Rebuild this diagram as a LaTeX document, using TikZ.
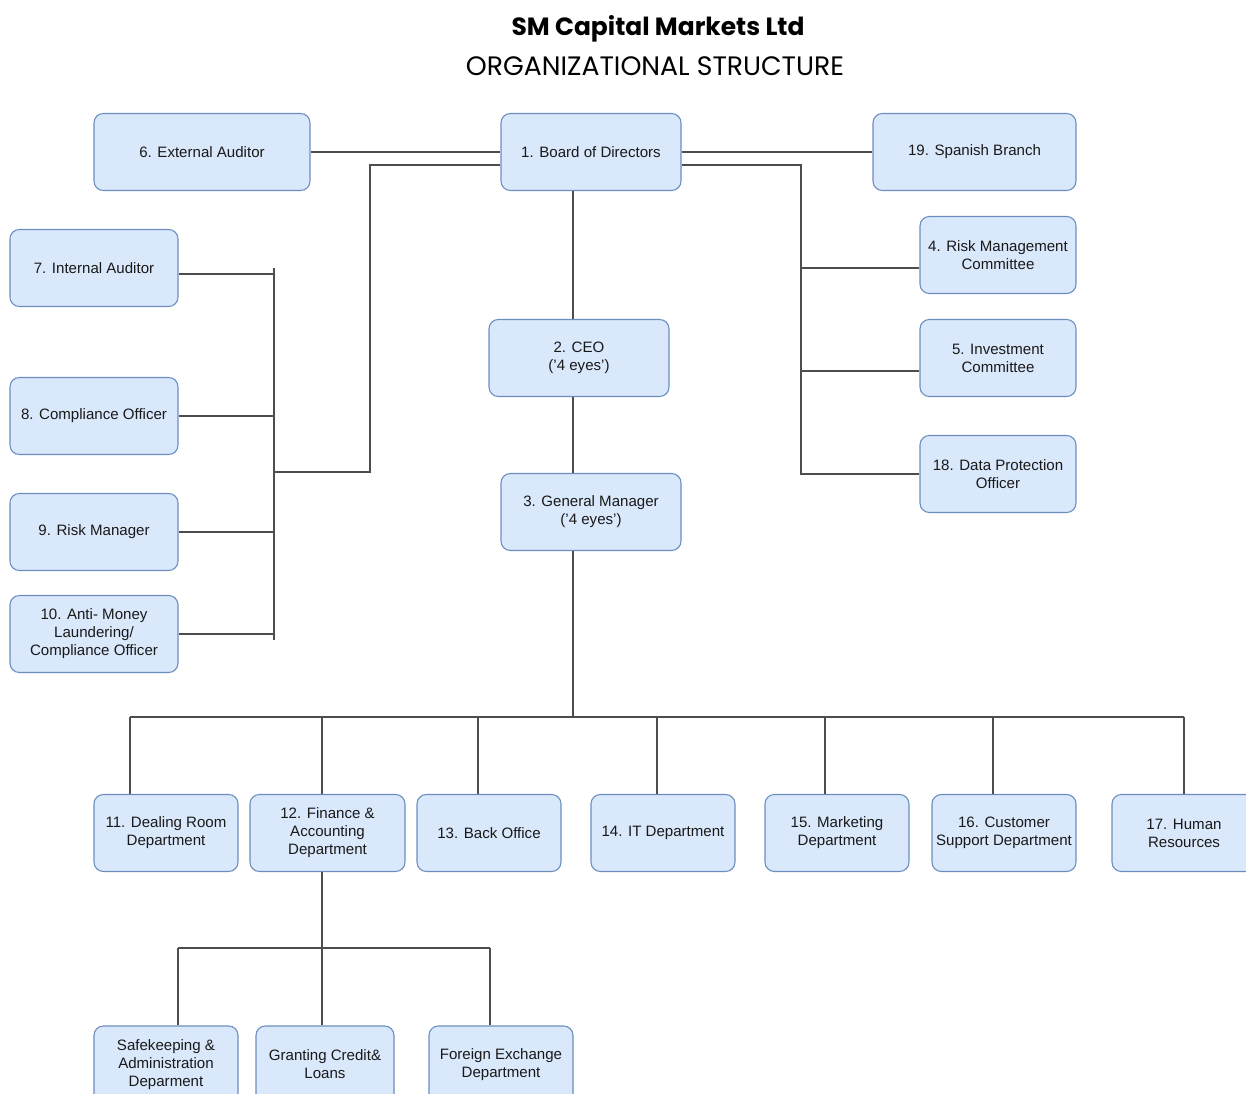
\documentclass[tikz,border=0pt]{standalone}
\usepackage{fontspec}
\setmainfont{Liberation Sans}
\newfontfamily\titlefont{Poppins}
\usetikzlibrary{positioning}
\definecolor{boxfill}{HTML}{DAE8FC}
\definecolor{boxline}{HTML}{6C8EBF}
\definecolor{wire}{HTML}{4D4D4D}

\begin{document}
\begin{tikzpicture}[
  x=0.75pt, y=-0.75pt,
  box/.style={draw=boxline,fill=boxfill,rounded corners=7pt,line width=0.8pt,align=center,text=black!90,font=\fontsize{11.3}{13.5}\selectfont,inner sep=2pt,minimum height=57.75pt},
  topbox/.style={box,minimum width=135pt},
  sidebox/.style={box,minimum width=126pt},
  rightbox/.style={box,minimum width=117pt},
  deptbox/.style={box,minimum width=108pt},
  link/.style={draw=wire,line width=0.9pt}
]
\useasboundingbox (0,0) rectangle (1246,1094);

% title
\node[font=\titlefont\bfseries\fontsize{18.7}{22}\selectfont] (title) at (658,29) {SM Capital Markets Ltd};
\node[font=\titlefont\fontsize{20}{23}\selectfont] (subtitle) at (655,66) {ORGANIZATIONAL STRUCTURE};

% top level
\node[box,minimum width=162pt] (ext) at (202,152) {6. External Auditor};
\node[topbox] (board) at (591,152) {1. Board of Directors};
\node[box,minimum width=152.25pt] (spain) at (974.5,152) {19. Spanish Branch};
\node[topbox] (ceo) at (579,358) {2. CEO\\('4 eyes')};
\node[topbox] (gm) at (591,512) {3. General Manager\\('4 eyes')};

% left side
\node[sidebox] (ia) at (94,268) {7. Internal Auditor};
\node[sidebox] (co) at (94,416) {8. Compliance Officer};
\node[sidebox] (rm) at (94,532) {9. Risk Manager};
\node[sidebox] (aml) at (94,634) {10. Anti- Money\\Laundering/\\Compliance Officer};

% right side
\node[rightbox] (rmc) at (998,255) {4. Risk Management\\Committee};
\node[rightbox] (inv) at (998,358) {5. Investment\\Committee};
\node[rightbox] (dpo) at (998,474) {18. Data Protection\\Officer};

% departments
\node[deptbox] (d11) at (166,833) {11. Dealing Room\\Department};
\node[box,minimum width=116.25pt] (d12) at (327.5,833) {12. Finance \&\\Accounting\\Department};
\node[deptbox] (d13) at (489,833) {13. Back Office};
\node[deptbox] (d14) at (663,833) {14. IT Department};
\node[deptbox] (d15) at (837,833) {15. Marketing\\Department};
\node[deptbox] (d16) at (1004,833) {16. Customer\\Support Department};
\node[deptbox] (d17) at (1184,833) {17. Human\\Resources};

% finance sub units
\node[deptbox] (s1) at (166,1064.5) {Safekeeping \&\\Administration\\Deparment};
\node[box,minimum width=103.5pt] (s2) at (325,1064.5) {Granting Credit\&\\Loans};
\node[deptbox] (s3) at (501,1064.5) {Foreign Exchange\\Department};

% bus points
\coordinate (lturn) at (370,472);
\coordinate (lbus) at (274,472);
\coordinate (lbustop) at (274,268);
\coordinate (lbusbot) at (274,640);
\coordinate (rbus) at (801,300);
\coordinate (spine) at (573,0);
\coordinate (dbus) at (573,717);
\coordinate (dbusL) at (130,717);
\coordinate (dbusR) at (1184,717);
\coordinate (sbus) at (322,948);
\coordinate (sbusL) at (178,948);
\coordinate (sbusR) at (490,948);

% board links
\draw[link] (ext) -- (board);
\draw[link] (board) -- (spain);
\draw[link] ([yshift=-9.75pt]board.west) -| (lturn) -- (lbus);
\draw[link] ([yshift=-9.75pt]board.east) -| (rbus) |- (dpo.west);
\draw[link] ([yshift=-9.75pt]rmc.west) -- ([yshift=-9.75pt]rmc.west -| rbus);
\draw[link] ([yshift=-9.75pt]inv.west) -- ([yshift=-9.75pt]inv.west -| rbus);

% left bus
\draw[link] (lbustop) -- (lbusbot);
\draw[link] ([yshift=-4.5pt]ia.east) -- ([yshift=-4.5pt]ia.east -| lbus);
\foreach \n in {co,rm,aml}
  \draw[link] (\n.east) -- (\n.east -| lbus);

% chain of command
\draw[link] (board.south -| spine) -- (ceo.north -| spine);
\draw[link] (ceo.south -| spine) -- (gm.north -| spine);
\draw[link] (gm.south -| spine) -- (dbus);
\draw[link] (dbusL) -- (dbusR);
\foreach \n/\x in {d11/130,d12/322,d13/478,d14/657,d15/825,d16/993,d17/1184}
  \draw[link] (dbus -| \x,0) -- (\n.north -| \x,0);

% finance bus
\draw[link] (d12.south -| sbus) -- (sbus);
\draw[link] (sbusL) -- (sbusR);
\foreach \n/\x in {s1/178,s2/322,s3/490}
  \draw[link] (sbus -| \x,0) -- (\n.north -| \x,0);
\end{tikzpicture}
\end{document}
